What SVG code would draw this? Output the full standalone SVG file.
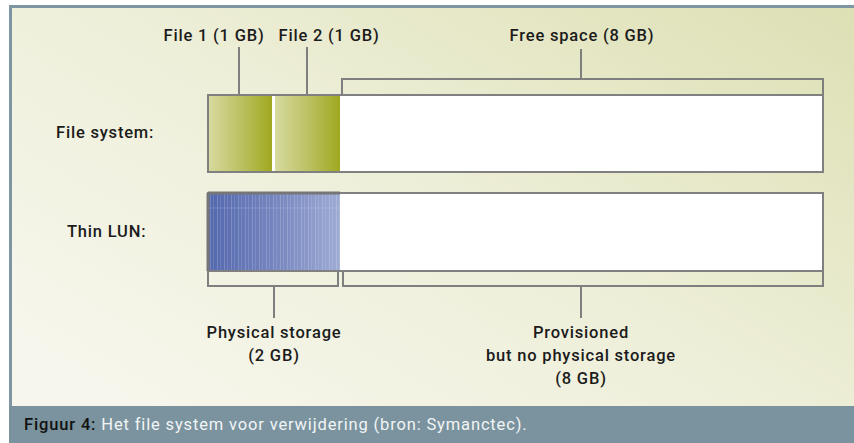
<svg xmlns="http://www.w3.org/2000/svg" width="854" height="443" viewBox="0 0 854 443">
  <defs>
    <linearGradient id="bg" x1="0" y1="0.8" x2="1" y2="0">
      <stop offset="0" stop-color="#f6f6ec"/>
      <stop offset="0.45" stop-color="#eeefd9"/>
      <stop offset="1" stop-color="#dde0b4"/>
    </linearGradient>
    <linearGradient id="green" x1="0" y1="0" x2="1" y2="0">
      <stop offset="0" stop-color="#d7da9f"/>
      <stop offset="0.5" stop-color="#bcc264"/>
      <stop offset="1" stop-color="#9fa81f"/>
    </linearGradient>
    <linearGradient id="blue" x1="0" y1="0" x2="1" y2="0">
      <stop offset="0" stop-color="#5267ad"/>
      <stop offset="0.5" stop-color="#7585bf"/>
      <stop offset="1" stop-color="#9eabd4"/>
    </linearGradient>
    <pattern id="stripes" width="7" height="10" patternUnits="userSpaceOnUse">
      <rect x="0" y="0" width="1" height="10" fill="#ffffff" opacity="0.18"/>
      <rect x="3" y="0" width="1" height="10" fill="#ffffff" opacity="0.12"/>
    </pattern>
    <style>
      .t { font-family: Roboto, "Liberation Sans", Arial, sans-serif; font-weight: 500; font-size: 16.5px; letter-spacing: 0.8px; fill: #1b1b1b; }
      .c { text-anchor: middle; }
      .bar { fill: none; stroke: #808080; stroke-width: 2; }
      .ln { fill: none; stroke: #7f7f7f; stroke-width: 2; }
      .cap { font-family: Roboto, "Liberation Sans", Arial, sans-serif; font-weight: 400; font-size: 16.5px; letter-spacing: 0.85px; fill: #f2f5f6; }
    </style>
  </defs>

  <!-- frame and background -->
  <rect x="0" y="0" width="854" height="443" fill="#ffffff"/>
  <rect x="9" y="5" width="845" height="401" fill="#7d96a1"/>
  <rect x="12" y="8" width="842" height="398" fill="url(#bg)"/>

  <!-- caption -->
  <g id="caption">
    <rect x="9" y="406" width="845" height="37" fill="#7a939e"/>
    <text class="cap" x="24" y="430"><tspan fill="#111111" font-weight="500">Figuur 4:</tspan> Het file system voor verwijdering (bron: Symanctec).</text>
  </g>

  <!-- File system bar -->
  <g id="file-system">
    <text class="t" x="56" y="138">File system:</text>
    <rect x="208" y="95" width="615" height="77" fill="#ffffff"/>
    <rect x="208" y="95" width="64" height="77" fill="url(#green)"/>
    <rect x="275" y="95" width="65" height="77" fill="url(#green)"/>
    <rect x="208" y="95" width="615" height="77" class="bar"/>
  </g>

  <!-- Thin LUN bar -->
  <g id="thin-lun">
    <text class="t" x="67" y="237">Thin LUN:</text>
    <rect x="208" y="193" width="615" height="78" fill="#ffffff"/>
    <rect x="208" y="193" width="132" height="78" fill="url(#blue)"/>
    <rect x="208" y="193" width="132" height="78" fill="url(#stripes)"/>
    <line x1="209" y1="208" x2="340" y2="208" stroke="#ffffff" stroke-opacity="0.15" stroke-width="1"/>
    <rect x="208" y="193" width="615" height="78" class="bar"/>
    <line x1="208" y1="193" x2="340" y2="193" stroke="#767676" stroke-width="3"/>
    <line x1="208" y1="193" x2="208" y2="271" stroke="#767676" stroke-width="3"/>
  </g>

  <!-- labels -->
  <g id="file1-label">
    <text class="t c" x="214" y="41">File 1 (1 GB)</text>
  </g>
  <g id="file2-label">
    <text class="t c" x="329" y="41">File 2 (1 GB)</text>
  </g>
  <g id="free-space-label">
    <text class="t c" x="582" y="41">Free space (8 GB)</text>
  </g>
  <g id="physical-label">
    <text class="t c" x="274" y="338">Physical storage</text>
    <text class="t c" x="274" y="361">(2 GB)</text>
  </g>
  <g id="provisioned-label">
    <text class="t c" x="581" y="338">Provisioned</text>
    <text class="t c" x="581" y="361">but no physical storage</text>
    <text class="t c" x="581" y="384">(8 GB)</text>
  </g>

  <!-- connectors / brackets -->
  <g id="connectors">
    <line class="ln" x1="239" y1="47" x2="239" y2="94"/>
    <line class="ln" x1="307" y1="47" x2="307" y2="94"/>
    <polyline class="ln" points="342,94 342,79 823,79 823,94"/>
    <line class="ln" x1="581" y1="49" x2="581" y2="79"/>
    <polyline class="ln" points="208,271 208,286 338,286 338,271"/>
    <line class="ln" x1="274" y1="286" x2="274" y2="318"/>
    <polyline class="ln" points="343,271 343,286 823,286 823,271"/>
    <line class="ln" x1="581" y1="286" x2="581" y2="318"/>
  </g>
</svg>
